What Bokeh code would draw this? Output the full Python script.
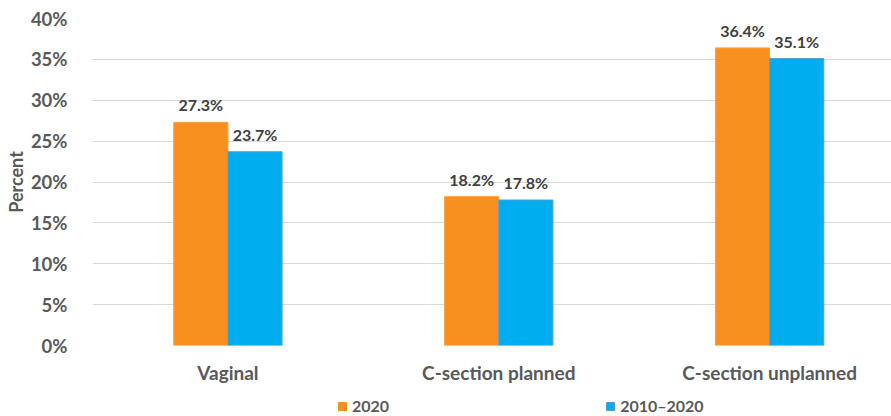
from bokeh.plotting import figure
from bokeh.layouts import column
from bokeh.models import ColumnDataSource, Range1d, FixedTicker, Legend, LegendItem, LabelSet, NumeralTickFormatter
from bokeh.core.properties import value
from bokeh.embed import file_html
from bokeh.resources import INLINE

categories = ["Vaginal", "C-section planned", "C-section unplanned"]
series_names = ["2020", "2010\u20132020"]
values_2020 = [27.3, 18.2, 36.4]
values_2010_2020 = [23.7, 17.8, 35.1]
y_ticks = [0, 5, 10, 15, 20, 25, 30, 35, 40]

FONT = "Lato"
ORANGE = "#F7901E"
BLUE = "#00AEEF"
TXT = "#595959"

centers = [i + 0.5 for i in range(len(categories))]
bar_w = 0.2

p = figure(width=891, height=390, output_backend="svg", toolbar_location=None,
           x_range=Range1d(0, 2.95), y_range=Range1d(0, 40),
           min_border_left=92, min_border_right=0, min_border_top=18, min_border_bottom=45)
p.outline_line_color = None
p.background_fill_color = "white"

src1 = ColumnDataSource(dict(x=[c - bar_w / 2 for c in centers], top=values_2020,
                             lab=[f"{v:.1f}%" for v in values_2020]))
src2 = ColumnDataSource(dict(x=[c + bar_w / 2 for c in centers], top=values_2010_2020,
                             lab=[f"{v:.1f}%" for v in values_2010_2020]))

p.vbar(x="x", top="top", width=bar_w, bottom=0, source=src1, fill_color=ORANGE, line_color="#F9A040", line_width=1)
p.vbar(x="x", top="top", width=bar_w, bottom=0, source=src2, fill_color=BLUE, line_color="#5B9BD5", line_width=1)

for src in (src1, src2):
    p.add_layout(LabelSet(x="x", y="top", text="lab", source=src, text_align="center",
                          text_baseline="bottom", y_offset=8, text_font=value(FONT),
                          text_font_style="bold", text_font_size="16px", text_color="#404040"))

# axes
p.xaxis.ticker = FixedTicker(ticks=centers)
p.xaxis.major_label_overrides = {c: cat for c, cat in zip(centers, categories)}
p.yaxis.ticker = FixedTicker(ticks=y_ticks)
p.yaxis.formatter = NumeralTickFormatter(format="0")
p.yaxis.major_label_overrides = {t: f"{t}%" for t in y_ticks}
for ax in (p.xaxis[0], p.yaxis[0]):
    ax.axis_line_color = None
    ax.major_tick_line_color = None
    ax.minor_tick_line_color = None
    ax.major_label_text_font = FONT
    ax.major_label_text_font_style = "bold"
    ax.major_label_text_font_size = "18.5px"
    ax.major_label_text_color = TXT
p.xaxis.major_label_text_font_size = "19px"
p.xaxis.major_label_standoff = 9
p.yaxis.major_label_standoff = 19
p.yaxis.axis_label = "Percent"
p.yaxis.axis_label_text_font = FONT
p.yaxis.axis_label_text_font_style = "bold"
p.yaxis.axis_label_text_font_size = "18px"
p.yaxis.axis_label_text_color = TXT
p.yaxis.axis_label_standoff = 1

p.xgrid.grid_line_color = None
p.ygrid.grid_line_color = "#D9D9D9"
p.ygrid.grid_line_width = 1

# legend strip below the chart
nan = float("nan")
lf = figure(width=891, height=26, output_backend="svg", toolbar_location=None,
            x_range=Range1d(0, 1), y_range=Range1d(0, 1),
            x_axis_location=None, y_axis_location=None,
            min_border_left=0, min_border_right=0, min_border_top=0, min_border_bottom=0)
lf.outline_line_color = None
lf.xgrid.grid_line_color = None
lf.ygrid.grid_line_color = None
lr1 = lf.vbar(x=[nan], top=[nan], width=0.1, fill_color=ORANGE, line_color=ORANGE)
lr2 = lf.vbar(x=[nan], top=[nan], width=0.1, fill_color=BLUE, line_color="#5B9BD5")

legend = Legend(items=[LegendItem(label=series_names[0], renderers=[lr1]),
                       LegendItem(label=series_names[1], renderers=[lr2])],
                orientation="horizontal", location=(245, 1), spacing=216,
                glyph_width=10, glyph_height=10, label_standoff=5, label_height=12,
                label_text_font=FONT, label_text_font_style="bold", label_text_font_size="16px",
                label_text_color=TXT, padding=0, margin=0, border_line_color=None,
                background_fill_alpha=0)
lf.add_layout(legend, "center")

layout = column(p, lf, spacing=0)
open("out.html", "w").write(file_html(layout, INLINE))
